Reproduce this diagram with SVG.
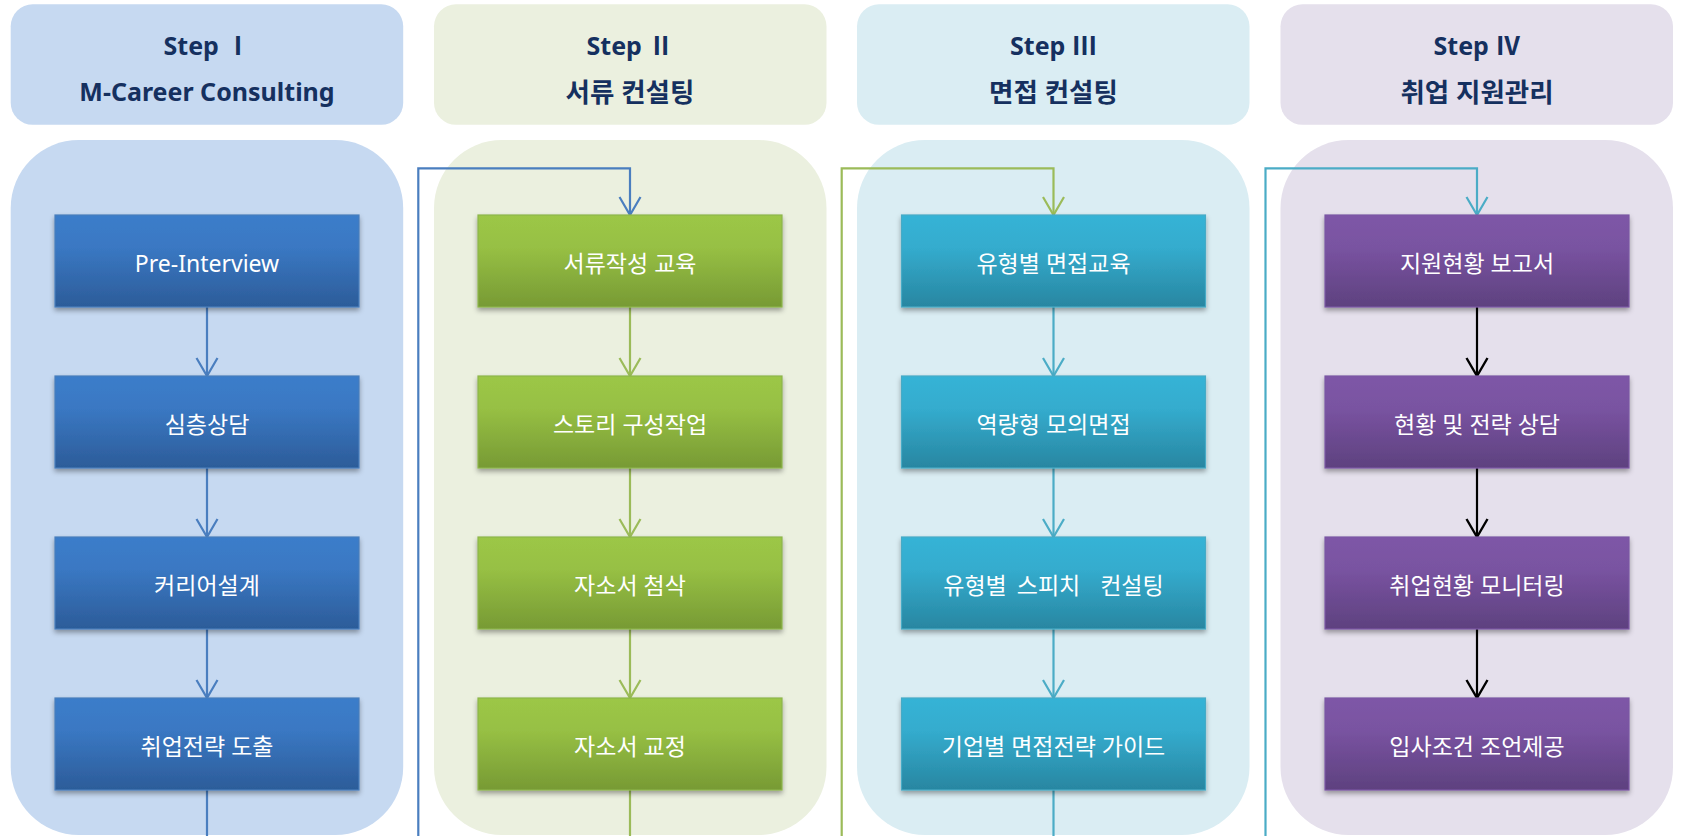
<svg xmlns="http://www.w3.org/2000/svg" width="1681" height="836" viewBox="0 0 1681 836">
<style>
.hdr{font-family:"Noto Sans","Noto Sans CJK KR",sans-serif;font-weight:bold;font-size:25px;fill:#15305F;text-anchor:middle}
.hk{font-size:26.5px}
.lbl{font-family:"Noto Sans","Noto Sans CJK KR",sans-serif;font-size:23px;fill:#FFFFFF;text-anchor:middle}
.box{stroke-width:1.2;filter:url(#sh)}
.ln{fill:none;stroke-width:2.2}
.b{stroke:#4A7EBF}.g{stroke:#9BBB59}.t{stroke:#4BACC6}.k{stroke:#000000}
</style>
<defs>
<filter id="sh" x="-10%" y="-10%" width="120%" height="130%">
<feDropShadow dx="0" dy="3" stdDeviation="2.5" flood-color="#000" flood-opacity="0.35"/>
</filter>
<linearGradient id="gb" x1="0" y1="0" x2="0" y2="1"><stop offset="0" stop-color="#3B7DCA"/><stop offset="0.35" stop-color="#3A78C3"/><stop offset="1" stop-color="#2C5C99"/></linearGradient>
<linearGradient id="gg" x1="0" y1="0" x2="0" y2="1"><stop offset="0" stop-color="#9CC746"/><stop offset="0.35" stop-color="#97C044"/><stop offset="1" stop-color="#779A34"/></linearGradient>
<linearGradient id="gt" x1="0" y1="0" x2="0" y2="1"><stop offset="0" stop-color="#36B3D6"/><stop offset="0.35" stop-color="#34ACCE"/><stop offset="1" stop-color="#2886A1"/></linearGradient>
<linearGradient id="gp" x1="0" y1="0" x2="0" y2="1"><stop offset="0" stop-color="#7E57A7"/><stop offset="0.35" stop-color="#7953A1"/><stop offset="1" stop-color="#5E417F"/></linearGradient>
<marker id="mb" markerUnits="userSpaceOnUse" viewBox="-20 -12 22 24" refX="0" refY="0" markerWidth="22" markerHeight="24" orient="auto"><path d="M-18,-10.5 L0,0 L-18,10.5" fill="none" stroke="#4A7EBF" stroke-width="2.2"/></marker>
<marker id="mg" markerUnits="userSpaceOnUse" viewBox="-20 -12 22 24" refX="0" refY="0" markerWidth="22" markerHeight="24" orient="auto"><path d="M-18,-10.5 L0,0 L-18,10.5" fill="none" stroke="#9BBB59" stroke-width="2.2"/></marker>
<marker id="mt" markerUnits="userSpaceOnUse" viewBox="-20 -12 22 24" refX="0" refY="0" markerWidth="22" markerHeight="24" orient="auto"><path d="M-18,-10.5 L0,0 L-18,10.5" fill="none" stroke="#4BACC6" stroke-width="2.2"/></marker>
<marker id="mk" markerUnits="userSpaceOnUse" viewBox="-20 -12 22 24" refX="0" refY="0" markerWidth="22" markerHeight="24" orient="auto"><path d="M-18,-10.5 L0,0 L-18,10.5" fill="none" stroke="#000000" stroke-width="2.4"/></marker>
</defs>
<rect width="1681" height="836" fill="#FFFFFF"/>

<g id="lanes">
<rect x="10.7" y="4.3" width="392.5" height="120.5" rx="22" fill="#C6D9F1"/>
<rect x="434" y="4.3" width="392.5" height="120.5" rx="22" fill="#EBF0DF"/>
<rect x="857" y="4.3" width="392.5" height="120.5" rx="22" fill="#DAEDF3"/>
<rect x="1280.5" y="4.3" width="392.5" height="120.5" rx="22" fill="#E5E0EC"/>
<rect x="10.7" y="140" width="392.5" height="695" rx="68" fill="#C6D9F1"/>
<rect x="434" y="140" width="392.5" height="695" rx="68" fill="#EBF0DF"/>
<rect x="857" y="140" width="392.5" height="695" rx="68" fill="#DAEDF3"/>
<rect x="1280.5" y="140" width="392.5" height="695" rx="68" fill="#E5E0EC"/>
</g>

<g id="headers">
<text class="hdr" x="207" y="55">Step Ⅰ</text>
<text class="hdr" x="207" y="101">M-Career Consulting</text>
<text class="hdr" x="630" y="55">Step Ⅱ</text>
<text class="hdr hk" x="630" y="102">서류 컨설팅</text>
<text class="hdr" x="1053.5" y="55">Step Ⅲ</text>
<text class="hdr hk" x="1053.5" y="102">면접 컨설팅</text>
<text class="hdr" x="1477" y="55">Step Ⅳ</text>
<text class="hdr hk" x="1477" y="102">취업 지원관리</text>
</g>

<g id="connectors">
<line class="ln b" x1="207" y1="307" x2="207" y2="376" marker-end="url(#mb)"/>
<line class="ln b" x1="207" y1="468" x2="207" y2="537" marker-end="url(#mb)"/>
<line class="ln b" x1="207" y1="629" x2="207" y2="698" marker-end="url(#mb)"/>
<line class="ln b" x1="207" y1="790" x2="207" y2="836"/>
<path class="ln b" d="M418.3,836 V168.3 H630 V215" marker-end="url(#mb)"/>

<line class="ln g" x1="630" y1="307" x2="630" y2="376" marker-end="url(#mg)"/>
<line class="ln g" x1="630" y1="468" x2="630" y2="537" marker-end="url(#mg)"/>
<line class="ln g" x1="630" y1="629" x2="630" y2="698" marker-end="url(#mg)"/>
<line class="ln g" x1="630" y1="790" x2="630" y2="836"/>
<path class="ln g" d="M841.7,836 V168.3 H1053.5 V215" marker-end="url(#mg)"/>

<line class="ln t" x1="1053.5" y1="307" x2="1053.5" y2="376" marker-end="url(#mt)"/>
<line class="ln t" x1="1053.5" y1="468" x2="1053.5" y2="537" marker-end="url(#mt)"/>
<line class="ln t" x1="1053.5" y1="629" x2="1053.5" y2="698" marker-end="url(#mt)"/>
<line class="ln t" x1="1053.5" y1="790" x2="1053.5" y2="836"/>
<path class="ln t" d="M1265.5,836 V168.3 H1477 V215" marker-end="url(#mt)"/>

<line class="ln k" x1="1477" y1="307" x2="1477" y2="376" marker-end="url(#mk)"/>
<line class="ln k" x1="1477" y1="468" x2="1477" y2="537" marker-end="url(#mk)"/>
<line class="ln k" x1="1477" y1="629" x2="1477" y2="698" marker-end="url(#mk)"/>
</g>

<g id="n1"><rect class="box" x="55" y="215" width="304" height="92" fill="url(#gb)" stroke="#4A7EBB"/><text class="lbl" x="207" y="272">Pre-Interview</text></g>
<g id="n2"><rect class="box" x="55" y="376" width="304" height="92" fill="url(#gb)" stroke="#4A7EBB"/><text class="lbl" x="207" y="433">심층상담</text></g>
<g id="n3"><rect class="box" x="55" y="537" width="304" height="92" fill="url(#gb)" stroke="#4A7EBB"/><text class="lbl" x="207" y="594">커리어설계</text></g>
<g id="n4"><rect class="box" x="55" y="698" width="304" height="92" fill="url(#gb)" stroke="#4A7EBB"/><text class="lbl" x="207" y="755">취업전략 도출</text></g>

<g id="n5"><rect class="box" x="478" y="215" width="304" height="92" fill="url(#gg)" stroke="#8DB54B"/><text class="lbl" x="630" y="272">서류작성 교육</text></g>
<g id="n6"><rect class="box" x="478" y="376" width="304" height="92" fill="url(#gg)" stroke="#8DB54B"/><text class="lbl" x="630" y="433">스토리 구성작업</text></g>
<g id="n7"><rect class="box" x="478" y="537" width="304" height="92" fill="url(#gg)" stroke="#8DB54B"/><text class="lbl" x="630" y="594">자소서 첨삭</text></g>
<g id="n8"><rect class="box" x="478" y="698" width="304" height="92" fill="url(#gg)" stroke="#8DB54B"/><text class="lbl" x="630" y="755">자소서 교정</text></g>

<g id="n9"><rect class="box" x="901.5" y="215" width="304" height="92" fill="url(#gt)" stroke="#46AAC5"/><text class="lbl" x="1053.5" y="272">유형별 면접교육</text></g>
<g id="n10"><rect class="box" x="901.5" y="376" width="304" height="92" fill="url(#gt)" stroke="#46AAC5"/><text class="lbl" x="1053.5" y="433">역량형 모의면접</text></g>
<g id="n11"><rect class="box" x="901.5" y="537" width="304" height="92" fill="url(#gt)" stroke="#46AAC5"/><text class="lbl" x="1053.5" y="594">유형별<tspan dx="4"> 스피치</tspan><tspan dx="14"> 컨설팅</tspan></text></g>
<g id="n12"><rect class="box" x="901.5" y="698" width="304" height="92" fill="url(#gt)" stroke="#46AAC5"/><text class="lbl" x="1053.5" y="755">기업별 면접전략 가이드</text></g>

<g id="n13"><rect class="box" x="1325" y="215" width="304" height="92" fill="url(#gp)" stroke="#7A58A3"/><text class="lbl" x="1477" y="272">지원현황 보고서</text></g>
<g id="n14"><rect class="box" x="1325" y="376" width="304" height="92" fill="url(#gp)" stroke="#7A58A3"/><text class="lbl" x="1477" y="433">현황 및 전략 상담</text></g>
<g id="n15"><rect class="box" x="1325" y="537" width="304" height="92" fill="url(#gp)" stroke="#7A58A3"/><text class="lbl" x="1477" y="594">취업현황 모니터링</text></g>
<g id="n16"><rect class="box" x="1325" y="698" width="304" height="92" fill="url(#gp)" stroke="#7A58A3"/><text class="lbl" x="1477" y="755">입사조건 조언제공</text></g>
</svg>
